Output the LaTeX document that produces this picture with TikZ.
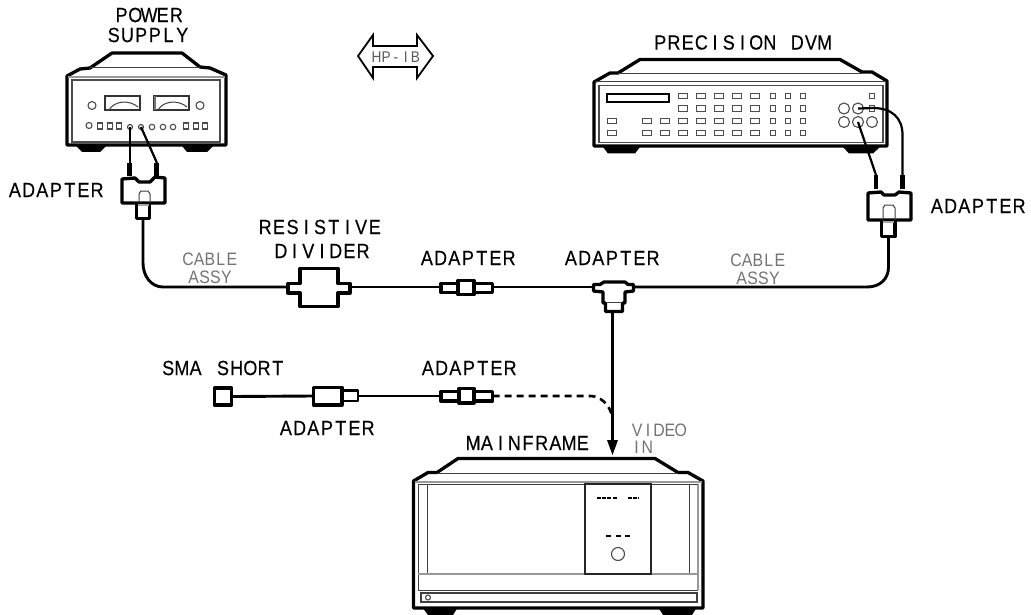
\documentclass[tikz,border=0pt]{standalone}
\usepackage{fontspec}
\newfontfamily\plotfont[FakeStretch=0.88,FakeBold=0.25]{Liberation Sans}
\newfontfamily\plotlight[FakeStretch=0.88]{Liberation Sans}
\makeatletter
\newlength\plw
\newcommand\pl[1]{\@tfor\pl@c:=#1\do{\makebox[\plw][c]{\pl@c}}}
\makeatother
\tikzset{
  x=1pt,y=-1pt,
  heavy/.style={draw=black,line width=3.3pt,line join=round},
  mid/.style={draw=black,line width=2.4pt,line join=round},
  cable/.style={draw=black,line width=2.9pt},
  thin line/.style={draw=black!70,line width=1.1pt},
  fine/.style={draw=black!75,line width=1pt},
  soft/.style={draw=black!40,line width=1.4pt},
  lbl/.style={inner sep=0pt,text=black,font={\plotfont\fontsize{20.5}{25}\selectfont\setlength\plw{13.7pt}}},
  sml/.style={inner sep=0pt,text=black!55,font={\plotlight\fontsize{18}{22}\selectfont\setlength\plw{10.9pt}}},
  tiny/.style={inner sep=0pt,text=black!65,font={\plotlight\fontsize{15.5}{19}\selectfont\setlength\plw{9.7pt}}},
  btn/.style={draw=black!70,line width=1.1pt,minimum width=9pt,minimum height=5.5pt,inner sep=0pt,fill=white},
  nbtn/.style={btn,minimum width=5.5pt},
  sq/.style={draw=black!70,line width=1.1pt,minimum width=5pt,minimum height=6pt,inner sep=0pt},
  knob/.style={circle,draw=black!70,line width=1.1pt,minimum size=#1,inner sep=0pt},
  jack/.style={circle,draw=black!75,line width=1.1pt,minimum size=5pt,inner sep=0pt},
  tip/.style={draw=black,line width=4.5pt},
}
\begin{document}
\begin{tikzpicture}
\useasboundingbox (0,0) rectangle (1031,615);
\fill[white] (0,0) rectangle (1031,615);

%%% POWER SUPPLY
\fill[black] (76,146) -- (82,152) -- (100,152) -- (106,146) -- cycle;
\fill[black] (182,146) -- (187,152) -- (207,152) -- (213,146) -- cycle;
\draw[heavy] (67,145) -- (67,76) -- (80,69) -- (90,68) -- (112,53) -- (182,53) -- (200,67) -- (210,68) -- (226,75) -- (226,145) -- cycle;
\draw[fine] (90,68) -- (200,68);
\draw[soft] (68,77) -- (225,77);
\draw[thin line] (72,80) rectangle (220,142);
\node[draw=black!80,line width=1.2pt,minimum width=35pt,minimum height=14pt,inner sep=0pt] (psm1) at (122.5,103) {};
\node[draw=black!80,line width=1.2pt,minimum width=35pt,minimum height=14pt,inner sep=0pt] (psm2) at (171.5,103) {};
\draw[fine] (109,110) .. controls (115,100) and (130,100) .. (138,107);
\draw[fine] (158,110) .. controls (164,100) and (179,100) .. (187,107);
\draw[black!55,line width=1.6pt] (155,96) -- (155,110);
\node[knob=8pt] (psk1) at (92,105.5) {};
\node[knob=8pt] (psk2) at (200,105.5) {};
\node[knob=6pt] (psa) at (89,125.5) {};
\foreach \i/\xx in {b/100,c/110,d/119,e/186,f/196,g/205} \node[sq] (ps\i) at (\xx,126) {};
\node[jack] (psj1) at (130,127) {};
\node[jack] (psj2) at (141,127) {};
\foreach \i/\xx in {3/152,4/163,5/173} \node[knob=5.5pt] (psj\i) at (\xx,127) {};

%%% adapter under power supply
\coordinate (pst1) at (130,163);
\coordinate (pst2) at (157,163);
\draw[black,line width=2.2pt] (psj1.center) -- (pst1);
\draw[black,line width=2.2pt] (psj2.center) -- (pst2);
\draw[tip] (129.5,163) -- (129.5,176);
\draw[tip] (156.5,163) -- (156.5,176);
\draw[heavy] (122,179) -- (135,178) -- (139,182) -- (150,182) -- (155,177) -- (165,178) -- (165,203) -- (122,203) -- cycle;
\draw[heavy] (136.5,203) -- (136.5,218.5) -- (149.5,218.5) -- (149.5,203);
\draw[fine] (139,203) -- (139,194) -- (141,191) -- (148,191) -- (150,194) -- (150,203);
\fill[black!35] (138,204) rectangle (149,206);
\coordinate (padp) at (143,219);

%%% labels, upper left
\node[lbl] (lpower) at (149,15) {\pl{POWER}};
\node[lbl] (lsupply) at (148,35) {\pl{SUPPLY}};
\node[lbl] (ladp1) at (56,190) {\pl{ADAPTER}};

%%% HP-IB
\draw[line width=1.8pt,line join=miter,draw=black] (358,56) -- (373,35) -- (373,46) -- (417,46) -- (417,35) -- (433,56) -- (417,78) -- (417,67) -- (373,67) -- (373,78) -- cycle;
\node[tiny] (lhpib) at (396,57) {\pl{HP-IB}};

%%% DVM
\fill[black] (603,147) -- (608,153.5) -- (635,153.5) -- (640,147) -- cycle;
\fill[black] (843,147) -- (849,153.5) -- (873,153.5) -- (880,147) -- cycle;
\draw[heavy] (594,146) -- (594,82) -- (610,73) -- (618,73) -- (640,59.5) -- (840,59.5) -- (862,72) -- (872,72) -- (887,81) -- (887,146) -- cycle;
\draw[fine] (618,74) -- (862,74);
\draw[fine] (595,82) -- (886,82);
\draw[thin line] (599,85.5) rectangle (883,142.5);
\draw[black,line width=1.4pt] (607,94) rectangle (669,102);
\foreach \yy in {96,108.5}{
  \foreach \xx in {683,701,719,737,755} \node[btn] at (\xx,\yy) {};
  \foreach \xx in {773,788,803} \node[nbtn] at (\xx,\yy) {};
}
\foreach \yy in {121,133}{
  \foreach \xx in {612,647,665,683,701,719,737,755} \node[btn] at (\xx,\yy) {};
  \foreach \xx in {773,788,803} \node[nbtn] at (\xx,\yy) {};
}
\node[nbtn] (dvb1) at (872,96) {};
\node[nbtn] (dvb2) at (872,108.5) {};
\node[knob=11pt] (dvc1) at (844,108.5) {};
\node[knob=11pt] (dvc2) at (858,108.5) {};
\node[knob=11pt] (dvc3) at (844,122) {};
\node[knob=11pt] (dvc4) at (858,122) {};
\node[knob=11pt] (dvc5) at (872,122) {};

%%% adapter under DVM
\coordinate (dvt1) at (876,175);
\coordinate (dvt2) at (902.5,175);
\draw[black,line width=2.2pt] (dvc4.center) -- (dvt1);
\draw[black,line width=2.2pt] (dvc2.center) -- (873,108) .. controls (892,108) and (902.5,118) .. (902.5,135) -- (dvt2);
\draw[tip] (876,175) -- (876,189);
\draw[tip] (902.5,175) -- (902.5,189);
\draw[heavy] (868,193) -- (881,192) -- (884,195) -- (895,195) -- (899,192) -- (911,193) -- (911,220) -- (868,220) -- cycle;
\draw[heavy] (881.5,220) -- (881.5,236.5) -- (895,236.5) -- (895,220);
\draw[fine] (883,220) -- (883,208) -- (885,205) -- (893,205) -- (895,208) -- (895,220);
\fill[black!35] (883,221) rectangle (894,223);
\coordinate (dadp) at (888.5,237);
\node[lbl] (lprec) at (742.5,42.5) {\pl{PRECISION~DVM}};
\node[lbl] (ladp2) at (978,206) {\pl{ADAPTER}};

%%% RESISTIVE DIVIDER
\draw[heavy] (288,283.5) -- (300,283.5) -- (300,268.5) -- (338,268.5) -- (338,283.5) -- (350,283.5) -- (350,293) -- (338,293) -- (338,306.5) -- (300,306.5) -- (300,293) -- (288,293) -- cycle;
\coordinate (divl) at (288,287);
\coordinate (divr) at (350,287);
\node[lbl] (lres) at (320,227) {\pl{RESISTIVE}};
\node[lbl] (ldiv) at (322,251) {\pl{DIVIDER}};

%%% inline adapter
\draw[heavy] (441,283.5) rectangle (492.5,292.5);
\draw[heavy,fill=white] (458,280.5) rectangle (474,294.5);
\coordinate (a1l) at (441,287);
\coordinate (a1r) at (492.5,287);
\node[lbl] (ladp3) at (468,258) {\pl{ADAPTER}};

%%% T adapter
\draw[heavy] (593.5,284.5) -- (600,284.5) -- (604,282) -- (625,282) -- (628,284.5) -- (633.5,284.5) -- (633.5,291) -- (625,292) -- (625,303) -- (622.5,303) -- (622.5,311.5) -- (605.5,311.5) -- (605.5,303) -- (603,303) -- (603,292) -- (593.5,291) -- cycle;
\draw[fine] (606,302) -- (622,302);
\coordinate (tl) at (593.5,287);
\coordinate (tr) at (633.5,287);
\coordinate (tb) at (612.5,312);
\node[lbl] (ladp4) at (612,258) {\pl{ADAPTER}};

%%% MAINFRAME
\fill[black] (422,607) -- (428,615) -- (453,615) -- (458,607) -- cycle;
\fill[black] (658,607) -- (663,615) -- (692,615) -- (697,607) -- cycle;
\draw[heavy] (413.5,608) -- (413.5,481) -- (428,472.5) -- (437,472.5) -- (458,458.5) -- (655,458.5) -- (678,472.5) -- (688,472.5) -- (703,481) -- (703,608) -- cycle;
\draw[fine] (437,473) -- (678,473);
\draw[soft] (415,482) -- (702,482);
\draw[soft] (698,484) -- (698,590);
\draw[fine] (418,484) -- (698,484);
\draw[fine] (418,484) -- (418,590) -- (698,590);
\draw[fine] (427,484) -- (427,574);
\draw[fine] (689,484) -- (689,574);
\draw[soft] (418,574) -- (698,574);
\draw[black!75,line width=1.2pt] (421,593) rectangle (697,602);
\node[draw=black!85,line width=1.2pt,minimum width=66pt,minimum height=90pt,inner sep=0pt,fill=white] (panel) at (618,529) {};
\draw[black,line width=1.8pt,dash pattern=on 4pt off 1.2pt] (597,498) -- (617,498);
\draw[black,line width=1.8pt,dash pattern=on 4pt off 1.2pt] (628,498) -- (639,498);
\draw[black,line width=1.8pt,dash pattern=on 5pt off 4.5pt] (606,536) -- (631,536);
\node[knob=13pt] (pknob) at (618,554) {};
\node[knob=5pt] (pled) at (428,597.5) {};
\node[lbl] (lmain) at (528,443) {\pl{MAINFRAME}};
\coordinate (vin) at (612.5,455);

%%% SMA row
\node[heavy,minimum width=17pt,minimum height=17pt,inner sep=0pt] (sma) at (223,396.5) {};
\draw[heavy] (313.5,387.5) rectangle (342,405);
\draw[mid] (342,390.5) -- (358,390.5) -- (358,401) -- (342,401);
\coordinate (a5l) at (313.5,396);
\coordinate (a5r) at (358,396);
\draw[heavy] (441,391.5) rectangle (492.5,401);
\draw[heavy,fill=white] (459,388.5) rectangle (474,403);
\coordinate (a6l) at (441,396);
\coordinate (a6r) at (492.5,396);
\coordinate (dashend) at (612.5,418);
\node[lbl] (lsma) at (223,368) {\pl{SMA~SHORT}};
\node[lbl] (ladp5) at (469,368) {\pl{ADAPTER}};
\node[lbl] (ladp6) at (327,428) {\pl{ADAPTER}};

%%% connectors
\draw[cable] (padp) -- (143,263) .. controls (143,276) and (151,287) .. (163,287) -- (divl);
\draw[cable] (divr) -- (a1l);
\draw[cable] (a1r) -- (tl);
\draw[cable] (tr) -- (867,287) .. controls (880,287) and (888.5,279) .. (888.5,267) -- (dadp);
\draw[cable] (tb) -- (612.5,442);
\fill[black] (vin) -- (607,440) -- (618,440) -- cycle;
\draw[cable] (sma.east) -- (a5l);
\draw[cable] (a5r) -- (a6l);
\draw[cable,line width=2.6pt,dash pattern=on 7pt off 5pt] (a6r) -- (590,396) .. controls (600,396) and (610,404) .. (dashend);

%%% grey labels
\node[sml] (lc1) at (210,259) {\pl{CABLE}};
\node[sml] (la1) at (210,277) {\pl{ASSY}};
\node[sml] (lc2) at (758,260) {\pl{CABLE}};
\node[sml] (la2) at (758,278) {\pl{ASSY}};
\node[sml] (lvid) at (659,430) {\pl{VIDEO}};
\node[sml] (lin) at (642,447) {\pl{IN}};
\end{tikzpicture}
\end{document}
